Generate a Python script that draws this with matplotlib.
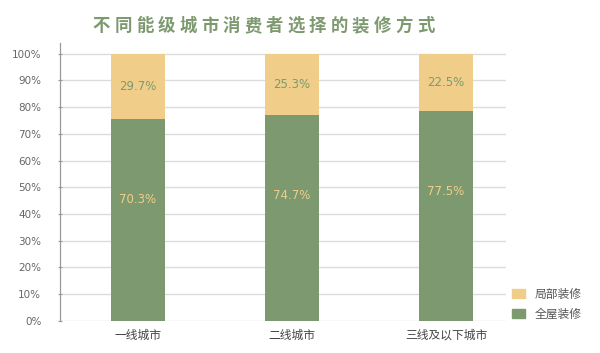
import matplotlib
matplotlib.use("Agg")
import matplotlib.pyplot as plt
from matplotlib.patches import Patch

plt.rcParams['font.family'] = ['Noto Sans CJK SC', 'DejaVu Sans']

categories = ['一线城市', '二线城市', '三线及以下城市']
# bar heights as drawn in the picture (%)
full_share = [75.5, 77.0, 78.5]
partial_share = [24.5, 23.0, 21.5]
# value labels as printed on the bars
full_labels = ['70.3%', '74.7%', '77.5%']
partial_labels = ['29.7%', '25.3%', '22.5%']
yticks = [0, 10, 20, 30, 40, 50, 60, 70, 80, 90, 100]
ytick_labels = [f'{v}%' for v in yticks]
title = '不同能级城市消费者选择的装修方式'

GREEN = '#7d996f'
YELLOW = '#f0ce8a'

fig = plt.figure(figsize=(6.0, 3.53), dpi=100)
ax = fig.add_axes([0.1, 0.0915, 0.7433, 0.7865])

x = list(range(len(categories)))
w = 0.35
ax.bar(x, full_share, width=w, color=GREEN, zorder=3, label='全屋装修')
ax.bar(x, partial_share, width=w, bottom=full_share, color=YELLOW, zorder=3, label='局部装修')

for i in x:
    ax.text(i, full_share[i] + partial_share[i] / 2, partial_labels[i], ha='center', va='center',
            color=GREEN, fontsize=8.5, family='DejaVu Sans', zorder=4)
    ax.text(i, full_share[i] - 30, full_labels[i], ha='center', va='center',
            color=YELLOW, fontsize=8.5, family='DejaVu Sans', zorder=4)

ax.set_xlim(-0.506, 2.39)
ax.set_ylim(0, 104)
ax.set_yticks(yticks)
ax.set_yticklabels(ytick_labels, family='DejaVu Sans', fontsize=7.5, color='#666666')
ax.set_xticks(x)
ax.set_xticklabels(categories, fontsize=8.5, color='#444444')
ax.tick_params(axis='x', length=0, pad=6)
ax.tick_params(axis='y', length=3, width=0.8, color='#999999', direction='inout', pad=12)
ax.yaxis.grid(True, color='#dcdcdc', linewidth=1, zorder=0)
ax.set_axisbelow(True)
for s in ['top', 'right', 'bottom']:
    ax.spines[s].set_visible(False)
ax.spines['left'].set_color('#999999')
ax.spines['left'].set_linewidth(0.9)

# title with letter spacing
n = len(title)
pitch = 21.6 / 600
x0 = 263.5 / 600 - pitch * (n - 1) / 2
for k, ch in enumerate(title):
    fig.text(x0 + k * pitch, 1 - 31 / 353, ch, ha='center', va='baseline', fontsize=12.5,
             fontweight='heavy', color=GREEN)

handles = [Patch(color=YELLOW, label='局部装修'), Patch(color=GREEN, label='全屋装修')]
leg = fig.legend(handles=handles, loc='upper left', bbox_to_anchor=(512 / 600, 1 - 288 / 353),
                 frameon=False, fontsize=8.5, handlelength=1.1, handleheight=0.8,
                 handletextpad=0.8, labelspacing=0.55, borderpad=0, borderaxespad=0)
for t in leg.get_texts():
    t.set_color('#555555')

fig.savefig('out.png', dpi=100)
